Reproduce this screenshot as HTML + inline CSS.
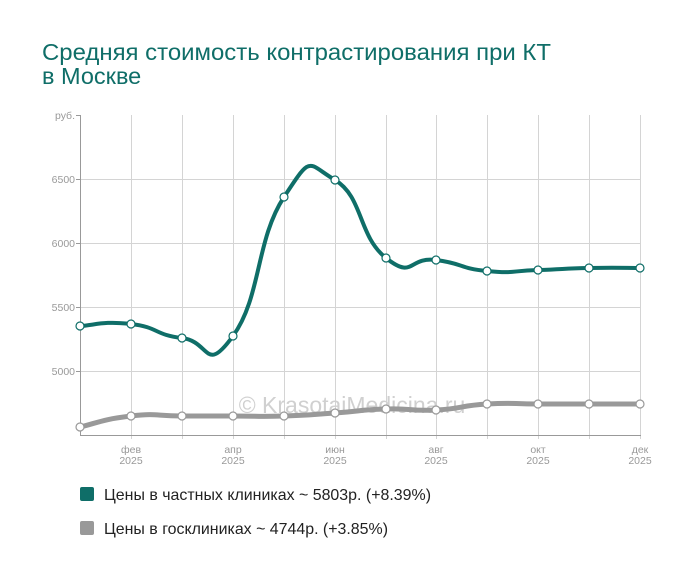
<!DOCTYPE html>
<html><head><meta charset="utf-8"><style>
body{margin:0;background:#fff;width:700px;height:578px;overflow:hidden;font-family:"Liberation Sans",sans-serif}
</style></head><body>
<svg id="s" width="700" height="578" xmlns="http://www.w3.org/2000/svg" font-family="Liberation Sans, sans-serif">
<text x="42" y="60" font-size="23.5" fill="#0f6e68" textLength="509" lengthAdjust="spacingAndGlyphs">Средняя стоимость контрастирования при КТ</text>
<text x="42" y="84" font-size="23.5" fill="#0f6e68">в Москве</text>
<g stroke="#d4d4d4" stroke-width="1">
<line x1="80" y1="179.5" x2="640" y2="179.5"/><line x1="80" y1="243.5" x2="640" y2="243.5"/>
<line x1="80" y1="307.5" x2="640" y2="307.5"/><line x1="80" y1="371.5" x2="640" y2="371.5"/>
</g>
<g id="vg" stroke="#d4d4d4" stroke-width="1"></g>
<line x1="80.5" y1="115" x2="80.5" y2="435" stroke="#999"/>
<line x1="80" y1="435.5" x2="641" y2="435.5" stroke="#999"/>
<g stroke="#999">
<line x1="76" y1="115.5" x2="80" y2="115.5"/><line x1="76" y1="179.5" x2="80" y2="179.5"/><line x1="76" y1="243.5" x2="80" y2="243.5"/><line x1="76" y1="307.5" x2="80" y2="307.5"/><line x1="76" y1="371.5" x2="80" y2="371.5"/>
</g>
<g font-size="10.5" fill="#999" text-anchor="end">
<text x="75" y="119">руб.</text><text x="75" y="183">6500</text><text x="75" y="247">6000</text><text x="75" y="311">5500</text><text x="75" y="375">5000</text>
</g>
<g id="xl" font-size="10.5" fill="#999" text-anchor="middle"></g>
<text x="352" y="413" font-size="23" fill="#d0d0d0" text-anchor="middle">© KrasotaiMedicina.ru</text>
<path id="g" fill="none" stroke="#999" stroke-width="5" stroke-linecap="round"/>
<path id="t" fill="none" stroke="#0f6e68" stroke-width="4" stroke-linecap="round"/>
<g id="pts"></g>
<rect x="80" y="487" width="14" height="14" rx="2" fill="#0f6e68"/>
<text x="104" y="500" font-size="16" fill="#222" textLength="327" lengthAdjust="spacingAndGlyphs">Цены в частных клиниках ~ 5803р. (+8.39%)</text>
<rect x="80" y="521" width="14" height="14" rx="2" fill="#999"/>
<text x="104" y="534" font-size="16" fill="#222" textLength="284" lengthAdjust="spacingAndGlyphs">Цены в госклиниках ~ 4744р. (+3.85%)</text>
</svg>
<script>
var X=[80,131,182,233,284,335,386,436,487,538,589,640];
var T=[326,324,338,336,197,180,258,260,271,270,268,268];
var G=[427,416,416,416,416,413,409,410,404,404,404,404];
var ns="http://www.w3.org/2000/svg";
function path(Y){var k=3.6;var d="M"+X[0]+","+Y[0];for(var i=0;i<X.length-1;i++){var p0=i?i-1:i,p3=i+2<X.length?i+2:i+1;
var c1x=X[i]+(X[i+1]-X[p0])/k,c1y=Y[i]+(Y[i+1]-Y[p0])/k,c2x=X[i+1]-(X[p3]-X[i])/k,c2y=Y[i+1]-(Y[p3]-Y[i])/k;
d+=" C"+c1x+","+c1y+" "+c2x+","+c2y+" "+X[i+1]+","+Y[i+1];}return d;}
document.getElementById("t").setAttribute("d",path(T));
document.getElementById("g").setAttribute("d",path(G));
var vg=document.getElementById("vg"),xl=document.getElementById("xl"),pts=document.getElementById("pts");
var m={1:"фев",3:"апр",5:"июн",7:"авг",9:"окт",11:"дек"};
for(var i=1;i<X.length;i++){var l=document.createElementNS(ns,"line");l.setAttribute("x1",X[i]+.5);l.setAttribute("x2",X[i]+.5);l.setAttribute("y1",115);l.setAttribute("y2",439);vg.appendChild(l);
if(m[i]){var a=document.createElementNS(ns,"text");a.setAttribute("x",X[i]);a.setAttribute("y",453);a.textContent=m[i];xl.appendChild(a);
var b=document.createElementNS(ns,"text");b.setAttribute("x",X[i]);b.setAttribute("y",464);b.textContent="2025";xl.appendChild(b);}}
function dots(Y,c){for(var i=0;i<X.length;i++){var e=document.createElementNS(ns,"circle");e.setAttribute("cx",X[i]);e.setAttribute("cy",Y[i]);e.setAttribute("r",4);e.setAttribute("fill","#fff");e.setAttribute("stroke",c);e.setAttribute("stroke-width",1.2);pts.appendChild(e);}}
dots(T,"#0f6e68");dots(G,"#999");
</script>
</body></html>
